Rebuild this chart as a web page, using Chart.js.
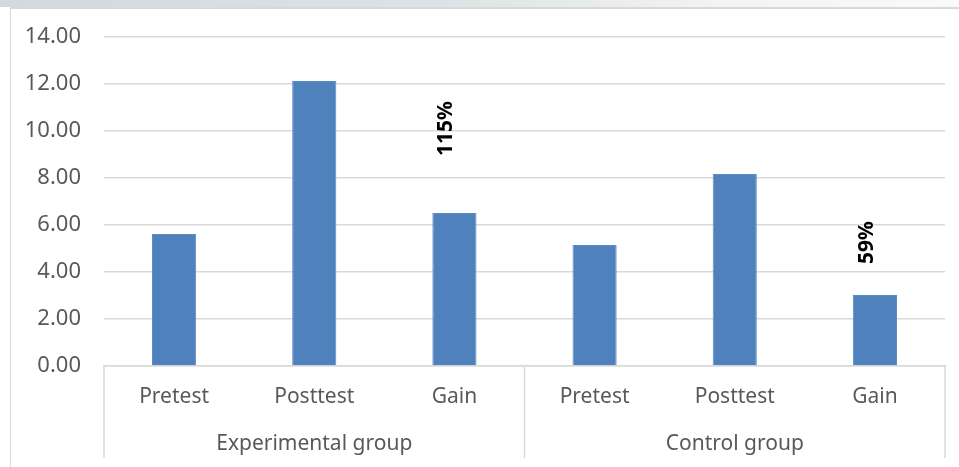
<!DOCTYPE html>
<html>
<head>
<meta charset="utf-8">
<script src="https://cdn.jsdelivr.net/npm/chart.js@4.4.1/dist/chart.umd.min.js"></script>
<style>
  body { margin: 0; background: #fff; }
  #wrap { position: relative; width: 959px; height: 467px; overflow: hidden; }
  #band { position: absolute; left: 0; top: 0; width: 959px; height: 7px;
          background: linear-gradient(90deg, #d4d9db 0%, #dde2e4 45%, #f2f3f3 75%, #fafafa 100%); }
  #frame { position: absolute; left: 10px; top: 7px; width: 949px; height: 460px;
           border-top: 2px solid #d9d9d9; border-left: 1px solid #d9d9d9; box-sizing: border-box; }
  canvas { position: absolute; left: 0; top: 0; }
</style>
</head>
<body>
<div id="wrap">
  <div id="band"></div>
  <div id="frame"></div>
  <canvas id="chart" width="959" height="467"></canvas>
</div>
<script>
const categories = ['Pretest', 'Posttest', 'Gain', 'Pretest', 'Posttest', 'Gain'];
const groups = ['Experimental group', 'Control group'];
const scores = [5.62, 12.13, 6.51, 5.15, 8.17, 3.02];
const gainLabels = ['', '', '115%', '', '', '59%'];
const yTicks = [0, 2, 4, 6, 8, 10, 12, 14];

const textColor = '#595959';
const fontFamily = "'Noto Sans', 'Open Sans', sans-serif";

// separators for the grouped category axis + rotated gain labels
const groupAxisPlugin = {
  id: 'groupAxis',
  afterDraw(chart) {
    const ctx = chart.ctx;
    const x = chart.scales.x;
    const x2 = chart.scales.x2;
    const area = chart.chartArea;
    const mid = (x.getPixelForTick(2) + x.getPixelForTick(3)) / 2;
    ctx.save();
    ctx.strokeStyle = '#d9d9d9';
    ctx.lineWidth = 1.5;
    [area.left, mid, area.right].forEach(px => {
      ctx.beginPath();
      ctx.moveTo(px, area.bottom);
      ctx.lineTo(px, x2.bottom);
      ctx.stroke();
    });

    // gain percentages, written upwards above the gain bars
    const meta = chart.getDatasetMeta(0);
    const gaps = { 2: 57, 5: 31 };
    ctx.fillStyle = '#000';
    ctx.font = "bold 21px " + fontFamily;
    ctx.textAlign = 'left';
    ctx.textBaseline = 'middle';
    gainLabels.forEach((txt, i) => {
      if (!txt) return;
      const bar = meta.data[i];
      ctx.save();
      ctx.translate(bar.x - 8, bar.y - gaps[i]);
      ctx.rotate(-Math.PI / 2);
      ctx.fillText(txt, 0, 0);
      ctx.restore();
    });
    ctx.restore();
  }
};

new Chart(document.getElementById('chart'), {
  type: 'bar',
  data: {
    labels: categories,
    datasets: [{
      data: scores,
      backgroundColor: '#4f81bd',
      borderColor: '#5b8bc4',
      borderWidth: 1,
      barPercentage: 0.315,
      categoryPercentage: 1
    }]
  },
  options: {
    responsive: false,
    animation: false,
    layout: { padding: { left: 0, right: 14, top: 37, bottom: 9 } },
    plugins: { legend: { display: false }, tooltip: { enabled: false } },
    scales: {
      y: {
        min: 0,
        max: 14,
        afterBuildTicks: s => { s.ticks = yTicks.map(v => ({ value: v })); },
        afterFit: s => { s.width = 104; },
        ticks: {
          padding: 23,
          color: textColor,
          font: { family: fontFamily, size: 22 },
          callback: v => Number(v).toFixed(2)
        },
        grid: { color: '#d9d9d9', lineWidth: 1.5, drawTicks: false },
        border: { display: false }
      },
      x: {
        afterFit: s => { s.height = 47; },
        ticks: {
          padding: 18,
          color: textColor,
          maxRotation: 0,
          font: { family: fontFamily, size: 21 }
        },
        grid: { display: false, drawTicks: false },
        border: { display: true, color: '#d9d9d9', width: 1.5 }
      },
      x2: {
        type: 'category',
        position: 'bottom',
        labels: groups,
        offset: true,
        afterFit: s => { s.height = 45; },
        ticks: {
          padding: 18,
          color: textColor,
          maxRotation: 0,
          font: { family: fontFamily, size: 21 }
        },
        grid: { display: false, drawTicks: false },
        border: { display: false }
      }
    }
  },
  plugins: [groupAxisPlugin]
});
</script>
</body>
</html>
